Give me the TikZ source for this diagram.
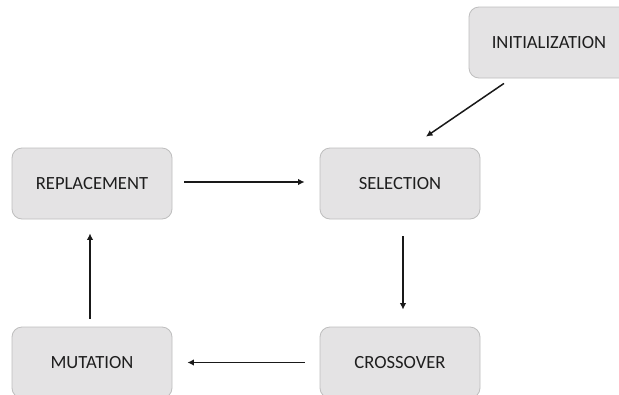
\documentclass[tikz,border=0pt]{standalone}
\usepackage{fontspec}
\setmainfont{Carlito}
\usetikzlibrary{arrows.meta}
\definecolor{boxfill}{HTML}{E4E3E4}
\definecolor{boxline}{HTML}{BEBEBE}
\definecolor{txt}{HTML}{1E1E1E}
\tikzset{
  stagebox/.style={draw=boxline, line width=0.8pt, fill=boxfill, rounded corners=10pt,
    minimum width=160pt, minimum height=71pt, inner sep=0pt, text=txt,
    font=\fontsize{18.6}{22}\selectfont},
  flow/.style={line width=1.5pt, draw=black!90, -{Latex[length=6.5pt,width=6.5pt]}}
}
\begin{document}
\begin{tikzpicture}[x=1pt,y=-1pt]
\clip (0,0) rectangle (619,394);
\fill[white] (0,0) rectangle (619,394);
\node[stagebox] (init) at (549,42.5) {INITIALIZATION};
\node[stagebox] (rep) at (92,183.5) {REPLACEMENT};
\node[stagebox] (sel) at (400,183.5) {SELECTION};
\node[stagebox] (mut) at (92,362.5) {MUTATION};
\node[stagebox] (cross) at (400,362.5) {CROSSOVER};
\draw[flow, shorten <=12pt, shorten >=15pt] ([yshift=1.5]rep.east) -- ([yshift=1.5]sel.west);
\draw[flow, shorten <=17pt, shorten >=17pt] ([xshift=3]sel.south) -- ([xshift=3]cross.north);
\draw[flow, shorten <=15pt, shorten >=15pt] (cross.west) -- (mut.east);
\draw[flow, shorten <=8pt, shorten >=14pt] ([xshift=-2]mut.north) -- ([xshift=-2]rep.south);
\draw[flow] ([shift={(-45,5)}]init.south) -- ([shift={(26,-11)}]sel.north);
\end{tikzpicture}
\end{document}
